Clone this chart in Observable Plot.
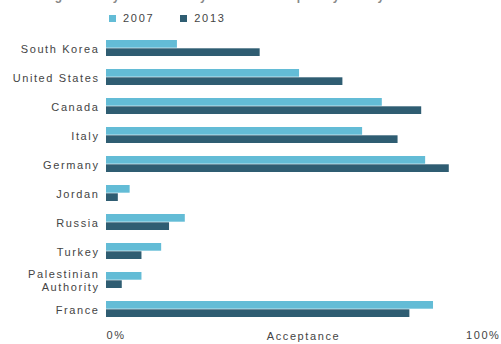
<!DOCTYPE html>
<html>
<head>
<meta charset="utf-8">
<script src="https://cdn.jsdelivr.net/npm/d3@7"></script>
<script src="https://cdn.jsdelivr.net/npm/@observablehq/plot@0.6"></script>
<style>
  body { margin: 0; background: #fff; font-family: "Liberation Sans", Arial, sans-serif; }
  #wrap { width: 501px; height: 344px; position: relative; overflow: hidden; }
  #title { position: absolute; left: 4px; top: -11px; font-size: 12px; font-weight: bold; color: #888; white-space: nowrap; }
  #legend { position: absolute; left: 109px; top: 12px; font-size: 11px; letter-spacing: 1.7px; color: #444; display: flex; gap: 26px; }
  #legend span.item { display: flex; align-items: center; gap: 7px; }
  #legend span.sw { display: inline-block; width: 7px; height: 7px; }
  #chart { position: absolute; left: 0; top: 28px; }
</style>
</head>
<body>
<div id="wrap">
  <div id="title">Percentage who say homosexuality should be accepted by society</div>
  <div id="legend"></div>
  <div id="chart"></div>
</div>
<script>
const countries = ["South Korea", "United States", "Canada", "Italy", "Germany", "Jordan", "Russia", "Turkey", "Palestinian Authority", "France"];
const years = ["2007", "2013"];
const values2007 = [18, 49, 70, 65, 81, 6, 20, 14, 9, 83];
const values2013 = [39, 60, 80, 74, 87, 3, 16, 9, 4, 77];
const colors = ["#63bcd6", "#2f5d72"];
const xTicks = [0, 100];

const labelOf = c => c === "Palestinian Authority" ? "Palestinian\nAuthority" : c;

const data = countries.flatMap((c, i) => [
  {country: c, year: years[0], value: values2007[i]},
  {country: c, year: years[1], value: values2013[i]}
]);

const legend = document.getElementById("legend");
years.forEach((y, i) => {
  const it = document.createElement("span");
  it.className = "item";
  it.innerHTML = `<span class="sw" style="background:${colors[i]}"></span>${y}`;
  legend.appendChild(it);
});

const chart = Plot.plot({
  width: 501,
  height: 316,
  marginLeft: 106,
  marginRight: 1,
  marginTop: 4,
  marginBottom: 20,
  style: {fontFamily: '"Liberation Sans", Arial, sans-serif', fontSize: "11px", letterSpacing: "1.6px", color: "#444"},
  x: {domain: [0, 100]},
  y: {domain: countries, paddingInner: 0.45, paddingOuter: 0.225},
  marks: [
    Plot.barX(data.filter(d => d.year === years[0]), {x: "value", y: "country", fill: colors[0], insetBottom: 8.3}),
    Plot.barX(data.filter(d => d.year === years[1]), {x: "value", y: "country", fill: colors[1], insetTop: 8.3}),
    Plot.axisY({tickSize: 0, tickPadding: 7, tickFormat: labelOf, lineHeight: 1.15, label: null, fill: "#444"}),
    Plot.axisX([xTicks[0]], {tickSize: 0, tickPadding: 7, tickFormat: d => d + "%", textAnchor: "start", label: null, fill: "#444"}),
    Plot.axisX([xTicks[1]], {tickSize: 0, tickPadding: 7, tickFormat: d => d + "%", textAnchor: "end", label: null, fill: "#444"}),
    Plot.text(["Acceptance"], {x: 50, frameAnchor: "bottom", dy: 12, lineAnchor: "middle", fill: "#444"})
  ]
});
document.getElementById("chart").appendChild(chart);
</script>
</body>
</html>
